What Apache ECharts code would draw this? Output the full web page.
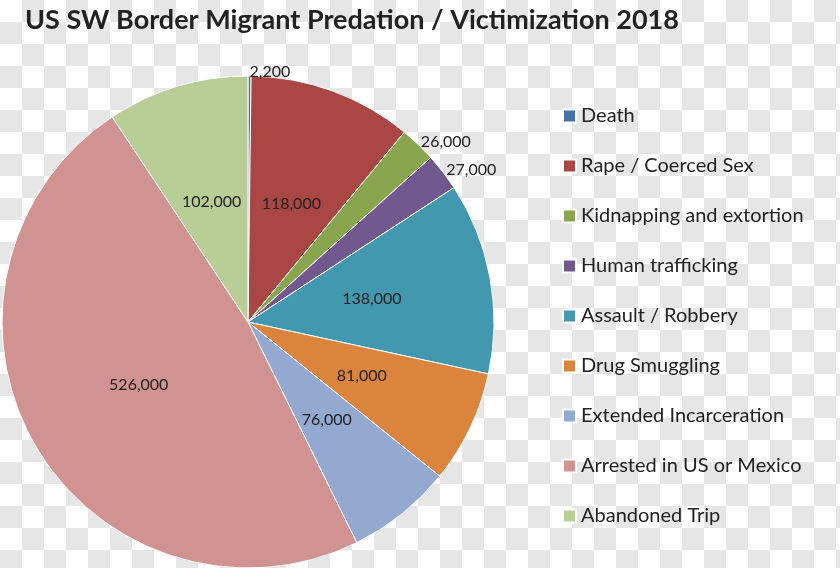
<!DOCTYPE html>
<html><head><meta charset="utf-8">
<script src="https://cdn.jsdelivr.net/npm/echarts@6/dist/echarts.min.js"></script>
<style>
html,body{margin:0;padding:0;}
#c{width:840px;height:568px;
background-color:#fff;
background-image:linear-gradient(45deg,#e6e6e6 25%,transparent 25%,transparent 75%,#e6e6e6 75%),linear-gradient(45deg,#e6e6e6 25%,transparent 25%,transparent 75%,#e6e6e6 75%);
background-size:44px 44px;background-position:0 0,22px 22px;}
</style></head><body>
<div id="c"></div>
<script>
const categories=["Death","Rape / Coerced Sex","Kidnapping and extortion","Human trafficking","Assault / Robbery","Drug Smuggling","Extended Incarceration","Arrested in US or Mexico","Abandoned Trip"];
const values=[2200,118000,26000,27000,138000,81000,76000,526000,102000];
const colors=["#4572A7","#AA4643","#89A54E","#71588F","#4198AF","#DB843D","#93A9CF","#D19392","#B9CD96"];
const outsideLabels=["Death","Kidnapping and extortion","Human trafficking"];
const chart=echarts.init(document.getElementById('c'),null,{renderer:'canvas'});
chart.setOption({
  backgroundColor:'transparent',
  title:{text:'US SW Border Migrant Predation / Victimization 2018',left:20,top:2,
    textStyle:{fontFamily:'Lato',fontWeight:'bold',fontSize:27,color:'#222'}},
  legend:{orient:'vertical',left:557,top:101,itemWidth:13,itemHeight:13,itemGap:30,icon:'rect',
    textStyle:{fontFamily:'Lato',fontSize:20,color:'#222'},data:categories},
  series:[{type:'pie',center:[248,322],radius:[0,246],startAngle:90,clockwise:true,
    itemStyle:{borderColor:'#fff',borderWidth:1},
    label:{position:'inside',formatter:p=>p.value.toLocaleString('en-US'),fontFamily:'Lato',fontSize:16,color:'#222'},
    labelLine:{show:false},
    data:categories.map((n,i)=>({name:n,value:values[i],itemStyle:{color:colors[i]},
      label:outsideLabels.includes(n)?{position:'outside',distanceToLabelLine:0}:{}, labelLine:{show:false,length:4,length2:0}}))
  }]
});
</script></body></html>
